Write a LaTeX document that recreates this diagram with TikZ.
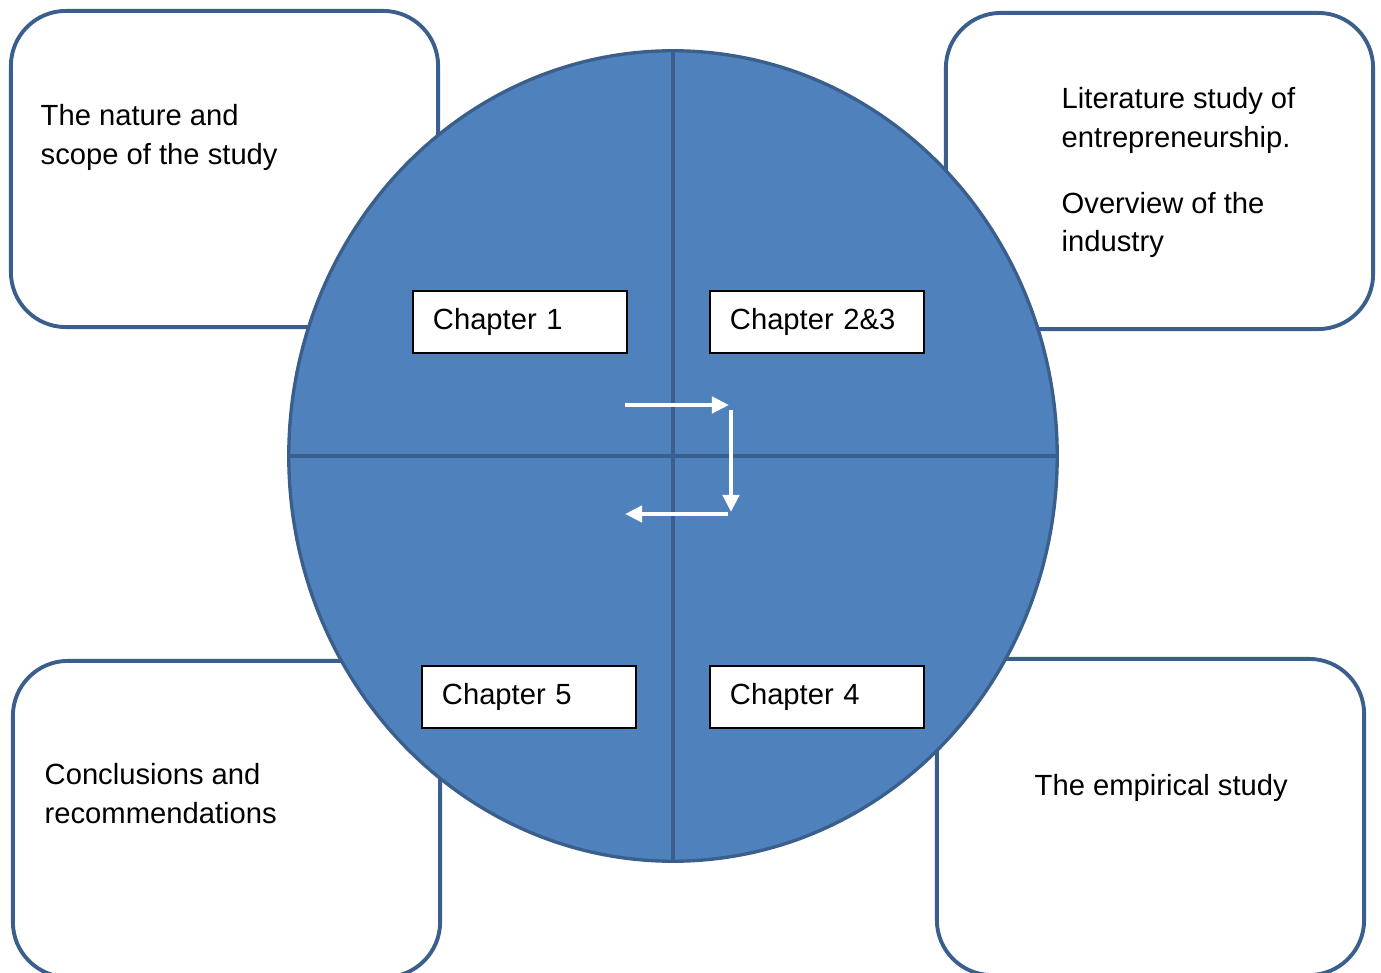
\documentclass[tikz,border=0pt]{standalone}
\usepackage{fontspec}
\setmainfont{Liberation Sans}
\usetikzlibrary{arrows.meta}
\definecolor{discfill}{HTML}{4F81BD}
\definecolor{discline}{HTML}{3A5F8D}

\begin{document}
\begin{tikzpicture}[x=0.01cm, y=-0.01cm, font={\fontsize{8.3pt}{10.9pt}\selectfont},
  outerbox/.style={draw=discline, line width=1.1pt, rounded corners=0.55cm, fill=white,
    minimum width=4.27cm, minimum height=3.16cm, inner sep=0pt, outer sep=0pt},
  chapbox/.style={draw=black, line width=0.5pt, fill=white, text width=1.74cm, align=left,
    inner xsep=0.2cm, inner ysep=0pt, minimum height=0.62cm, outer sep=0pt},
  boxtext/.style={anchor=north west, align=left, inner sep=0pt},
  flow/.style={white, line width=1.3pt, -{Triangle[length=0.17cm, width=0.16cm]}}]
  \useasboundingbox (0,0) rectangle (1381,973);
  % the four outer boxes
  \node[outerbox] (nature) at (224.5,169) {};
  \node[outerbox] (literature) at (1159.5,171) {};
  \node[outerbox] (conclusions) at (226.5,819) {};
  \node[outerbox] (empirical) at (1150.5,817) {};
  % the disc with its quarters
  \draw[discline, line width=0.95pt, fill=discfill] (673,456) ellipse [x radius=3.84cm, y radius=4.05cm];
  \draw[discline, line width=1.4pt] (673,52) -- (673,860);
  \draw[discline, line width=1.4pt] (290,456) -- (1056,456);
  % chapters
  \node[chapbox] (ch1) at (520,322) {Chapter 1};
  \node[chapbox] (ch23) at (817,322) {Chapter 2\&3};
  \node[chapbox] (ch5) at (529,697) {Chapter 5};
  \node[chapbox] (ch4) at (817,697) {Chapter 4};
  % arrows in the middle
  \coordinate (a1) at (625,405);
  \coordinate (a2) at (729,405);
  \coordinate (b1) at (731,410);
  \coordinate (b2) at (731,512);
  \coordinate (c1) at (728,514);
  \coordinate (c2) at (625,514);
  \draw[flow] (a1) -- (a2);
  \draw[flow] (b1) -- (b2);
  \draw[flow] (c1) -- (c2);
  % texts
  \node[boxtext] (naturetext) at (40,104) {The nature and\\scope of the study};
  \node[boxtext] (littext) at (1061,87) {Literature study of\\entrepreneurship.\\[0.28cm]Overview of the\\industry};
  \node[boxtext] (conctext) at (44,763) {Conclusions and\\recommendations};
  \node[boxtext] (emptext) at (1034,774) {The empirical study};
\end{tikzpicture}
\end{document}
